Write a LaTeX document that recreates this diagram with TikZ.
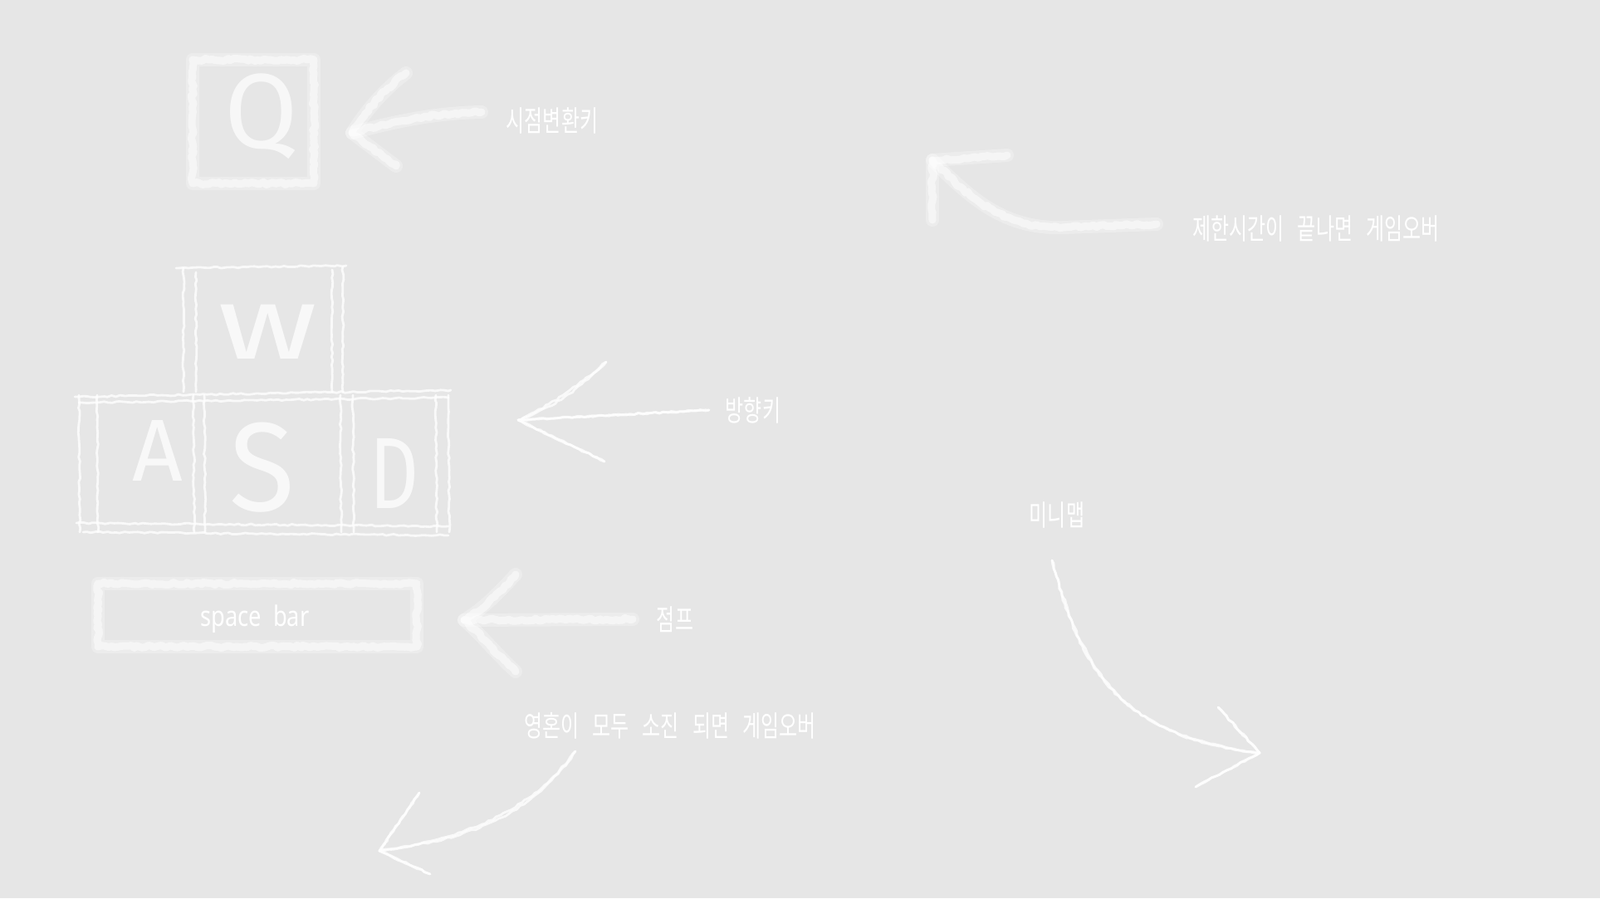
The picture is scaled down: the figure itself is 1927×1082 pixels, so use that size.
\documentclass[tikz,border=0pt]{standalone}
\usepackage{fontspec}
\usetikzlibrary{decorations.pathmorphing}
\newfontfamily\kr[WordSpace=3]{Noto Sans CJK KR}
\newfontfamily\lat{Noto Sans}
\newfontfamily\lf{Fira Sans}
\definecolor{bg}{HTML}{E6E6E6}
\tikzset{
  chalk/.style={draw=white, line width=1.4pt, draw opacity=0.78, line cap=round, line join=round,
    decorate, decoration={random steps, segment length=2.5pt, amplitude=0.5pt}},
  blurA/.style={draw=white, line width=8pt, draw opacity=0.28, line cap=round, line join=round},
  blurB/.style={draw=white, line width=4.5pt, draw opacity=0.5, line cap=round, line join=round,
    decorate, decoration={random steps, segment length=2pt, amplitude=0.8pt}},
  lbl/.style={text=white, inner sep=0pt, font=\kr\fontsize{12}{12}\selectfont},
  keyletter/.style={text=white, text opacity=0.75, inner sep=0pt},
}
\newcommand\blurpath[1]{\draw[blurA] #1; \draw[blurB] #1;}
\newcommand\dchalk[1]{\draw[chalk] #1; \draw[chalk, xshift=1.8pt, yshift=-1.2pt] #1;}
\newcommand\tallt[1]{\scalebox{1}[1.45]{#1}}
\begin{document}
\begin{tikzpicture}[x=0.5pt, y=-0.5pt]
\useasboundingbox (0,0) rectangle (1927,1082);
\fill[bg] (0,0) rectangle (1927,1082);

% ---------- Q key ----------
\blurpath{(232,72) rectangle (378,221)}
\node[keyletter, font=\lf\fontsize{64}{64}\selectfont, text opacity=0.7] (q) at (315,140) {Q};

% ---------- W A S D keys ----------
% W key
\draw[chalk] (212,323) -- (417,320);
\draw[chalk] (221,323) -- (221,472);
\draw[chalk] (236,328) -- (236,472);
\draw[chalk] (400,325) -- (400,472);
\draw[chalk] (413,321) -- (413,472);
% bottom row
\draw[chalk] (90,478) -- (543,470);
\draw[chalk] (95,485) -- (540,479);
\draw[chalk] (92,630) -- (540,634);
\draw[chalk] (100,641) -- (540,645);
\foreach \xx in {95,117,233,246,410,425,525,540}{
  \draw[chalk] (\xx,476) -- (\xx+1,641);
}
\node[keyletter, font=\lf\fontsize{62}{62}\selectfont] (w) at (323,400) {\scalebox{1.35}[1]{w}};
\node[keyletter, font=\lf\fontsize{53}{53}\selectfont] (a) at (190,543) {A};
\node[keyletter, font=\lf\fontsize{76}{76}\selectfont] (s) at (316,563) {\scalebox{0.95}[1]{S}};
\node[keyletter, font=\lf\fontsize{61}{61}\selectfont] (d) at (475,570) {\scalebox{0.75}[1]{D}};

% ---------- space bar ----------
\blurpath{(118,703) rectangle (502,779)}
\node[lbl, font=\lat\fontsize{13}{13}\selectfont] (space) at (307,746) {\scalebox{1.05}[1.3]{space\hspace{0.25em} bar}};

% ---------- labels ----------
\node[lbl] (view) at (665,145) {\tallt{시점변환키}};
\node[lbl] (dir) at (907,494) {\tallt{방향키}};
\node[lbl] (jump) at (813,746) {\tallt{점프}};
\node[lbl] (soul) at (807,874) {\tallt{영혼이 모두 소진 되면 게임오버}};
\node[lbl] (time) at (1585,275) {\tallt{제한시간이 끝나면 게임오버}};
\node[lbl] (mini) at (1273,620) {\tallt{미니맵}};

% ---------- arrows ----------
% Q arrow
\coordinate (qt) at (580,135); \coordinate (qh) at (424,160);
\coordinate (qu) at (489,88);  \coordinate (qd) at (477,200);
\blurpath{(qt) .. controls (520,136) and (470,148) .. (qh)}
\blurpath{(qu) .. controls (460,110) and (440,135) .. (qh) -- (qd)}

% WASD arrow
\coordinate (dt) at (854,494); \coordinate (dh) at (624,506);
\coordinate (du) at (730,436); \coordinate (dd) at (728,556);
\dchalk{(dt) -- (dh)}
\dchalk{(du) .. controls (690,470) and (660,490) .. (dh) -- (dd)}

% jump arrow
\coordinate (jt) at (762,746); \coordinate (jh) at (559,747);
\coordinate (ju) at (621,692); \coordinate (jd) at (621,809);
\blurpath{(jt) -- (jh)}
\blurpath{(ju) .. controls (600,715) and (580,735) .. (jh) .. controls (580,765) and (600,790) .. (jd)}

% soul arrow
\coordinate (st) at (693,905); \coordinate (sh) at (457,1025);
\coordinate (su) at (505,955); \coordinate (sd) at (518,1053);
\dchalk{(st) .. controls (640,975) and (570,1008) .. (sh)}
\dchalk{(su) -- (sh) -- (sd)}

% time arrow
\coordinate (tt) at (1393,270); \coordinate (th) at (1123,193);
\coordinate (tu) at (1213,187); \coordinate (td) at (1123,265);
\blurpath{(tt) -- (1280,274) .. controls (1210,276) and (1170,240) .. (th)}
\blurpath{(tu) -- (th) -- (td)}

% minimap arrow
\coordinate (mt) at (1267,675); \coordinate (mh) at (1517,907);
\coordinate (mu) at (1467,852); \coordinate (md) at (1440,948);
\dchalk{(mt) .. controls (1300,800) and (1340,885) .. (mh)}
\dchalk{(mu) -- (mh) -- (md)}
\end{tikzpicture}
\end{document}
